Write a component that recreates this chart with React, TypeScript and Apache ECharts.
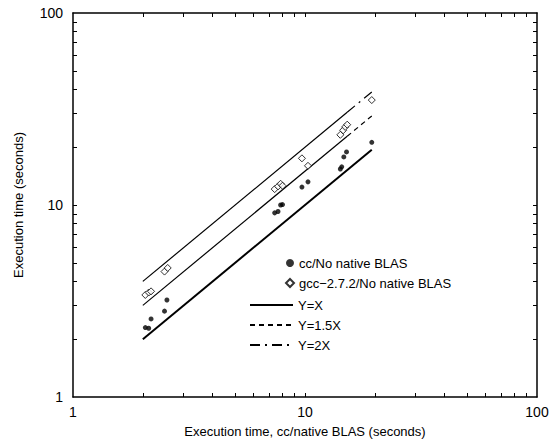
import React, { useEffect, useRef } from "react";
import * as echarts from "echarts";

// cc / No native BLAS: [native BLAS time, no-native time]
const ccData: [number, number][] = [
  [2.05, 2.3], [2.12, 2.28], [2.17, 2.55], [2.48, 2.8], [2.54, 3.2],
  [7.4, 9.1], [7.65, 9.25], [7.85, 10.0], [8.0, 10.05], [9.7, 12.4], [10.3, 13.2],
  [14.2, 15.4], [14.4, 15.8], [14.7, 17.8], [15.1, 18.9], [19.4, 21.2],
];
// gcc-2.7.2 / No native BLAS
const gccData: [number, number][] = [
  [2.05, 3.4], [2.12, 3.5], [2.17, 3.55], [2.48, 4.5], [2.56, 4.7],
  [7.4, 12.1], [7.65, 12.5], [7.85, 12.9], [8.0, 12.6], [9.7, 17.5], [10.3, 16.0],
  [14.2, 23.2], [14.6, 24.5], [14.9, 25.5], [15.2, 26.2], [19.4, 35.2],
];
// reference lines
const lineYX: [number, number][] = [[2, 2], [19.4, 19.4]];
const line15Solid: [number, number][] = [[2, 3], [15.2, 22.8]];
const line15Dash: [number, number][] = [[15.2, 22.8], [19.4, 29.1]];
const line2Solid: [number, number][] = [[2, 4], [15.2, 30.4]];
const line2Dash: [number, number][] = [[15.2, 30.4], [19.4, 38.8]];

// tick positions on the log axes
const tickValues: number[] = [2, 3, 4, 5, 6, 7, 8, 9, 10, 20, 30, 40, 50, 60, 70, 80, 90];
const labelValues: number[] = [1, 10, 100];

const FONT = "'Liberation Sans', Arial, Helvetica, sans-serif";

export default function App() {
  const ref = useRef<HTMLDivElement>(null);
  useEffect(() => {
    if (!ref.current) return;
    const chart = echarts.init(ref.current, undefined, { renderer: "svg" });
    const axisCommon = {
      axisTick: {
        show: true, inside: true, length: 4, customValues: tickValues,
        lineStyle: { color: "#000", width: 1 },
      },
      minorTick: { show: false },
      splitLine: { show: false },
      minorSplitLine: { show: false },
      axisLine: { show: true, lineStyle: { color: "#000", width: 1.5 } },
    };
    chart.setOption({
      animation: false,
      backgroundColor: "#fff",
      textStyle: { fontFamily: FONT, color: "#000" },
      grid: { left: 73, right: 15, top: 13, bottom: 48 },
      xAxis: [
        {
          type: "log", logBase: 10, min: 1, max: 100, position: "bottom",
          name: "Execution time, cc/native BLAS (seconds)",
          nameLocation: "middle", nameGap: 28,
          nameTextStyle: { fontFamily: FONT, fontSize: 13, color: "#000" },
          axisLabel: { fontFamily: FONT, fontSize: 14, color: "#000", margin: 8, customValues: labelValues },
          ...axisCommon,
        },
        {
          type: "log", logBase: 10, min: 1, max: 100, position: "top",
          axisLabel: { show: false },
          ...axisCommon,
        },
      ],
      yAxis: [
        {
          type: "log", logBase: 10, min: 1, max: 100, position: "left",
          name: "Execution time (seconds)",
          nameLocation: "middle", nameGap: 48,
          nameTextStyle: { fontFamily: FONT, fontSize: 13, color: "#000" },
          axisLabel: { fontFamily: FONT, fontSize: 14, color: "#000", margin: 10, customValues: labelValues },
          ...axisCommon,
        },
        {
          type: "log", logBase: 10, min: 1, max: 100, position: "right",
          axisLabel: { show: false },
          ...axisCommon,
        },
      ],
      legend: [
        {
          data: ["cc/No native BLAS", "gcc\u22122.7.2/No native BLAS"],
          orient: "vertical", left: 285, top: 253, padding: 0,
          itemWidth: 8, itemHeight: 8, itemGap: 0,
          textStyle: { fontFamily: FONT, fontSize: 13, color: "#000", lineHeight: 20 },
        },
        {
          data: ["Y=X", "Y=1.5X", "Y=2X"],
          orient: "vertical", left: 249, top: 295, padding: 0,
          itemWidth: 43, itemHeight: 10, itemGap: 0,
          textStyle: { fontFamily: FONT, fontSize: 13, color: "#000", lineHeight: 20 },
        },
      ],
      series: [
        {
          name: "Y=X", type: "line", data: lineYX, symbol: "none",
          itemStyle: { color: "#000", opacity: 0 },
          lineStyle: { color: "#000", width: 2 }, z: 2,
        },
        {
          name: "_y15solid", type: "line", data: line15Solid, symbol: "none",
          itemStyle: { color: "#000", opacity: 0 },
          lineStyle: { color: "#000", width: 1.2 }, z: 2,
        },
        {
          name: "Y=1.5X", type: "line", data: line15Dash, symbol: "none",
          itemStyle: { color: "#000", opacity: 0 },
          lineStyle: { color: "#000", width: 1.2, type: [5, 4] }, z: 2,
        },
        {
          name: "_y2solid", type: "line", data: line2Solid, symbol: "none",
          itemStyle: { color: "#000", opacity: 0 },
          lineStyle: { color: "#000", width: 1.2 }, z: 2,
        },
        {
          name: "Y=2X", type: "line", data: line2Dash, symbol: "none",
          itemStyle: { color: "#000", opacity: 0 },
          lineStyle: { color: "#000", width: 1.2, type: [10, 5, 2, 5] }, z: 2,
        },
        {
          name: "cc/No native BLAS", type: "scatter", data: ccData,
          symbol: "circle", symbolSize: 5,
          itemStyle: { color: "#000" }, z: 3,
        },
        {
          name: "gcc\u22122.7.2/No native BLAS", type: "scatter", data: gccData,
          symbol: "diamond", symbolSize: 7,
          itemStyle: { color: "#fff", borderColor: "#000", borderWidth: 1 }, z: 3,
        },
      ],
    });

    return () => chart.dispose();
  }, []);
  return <div ref={ref} style={{ width: 552, height: 445, position: "absolute", left: 0, top: 0 }} />;
}
